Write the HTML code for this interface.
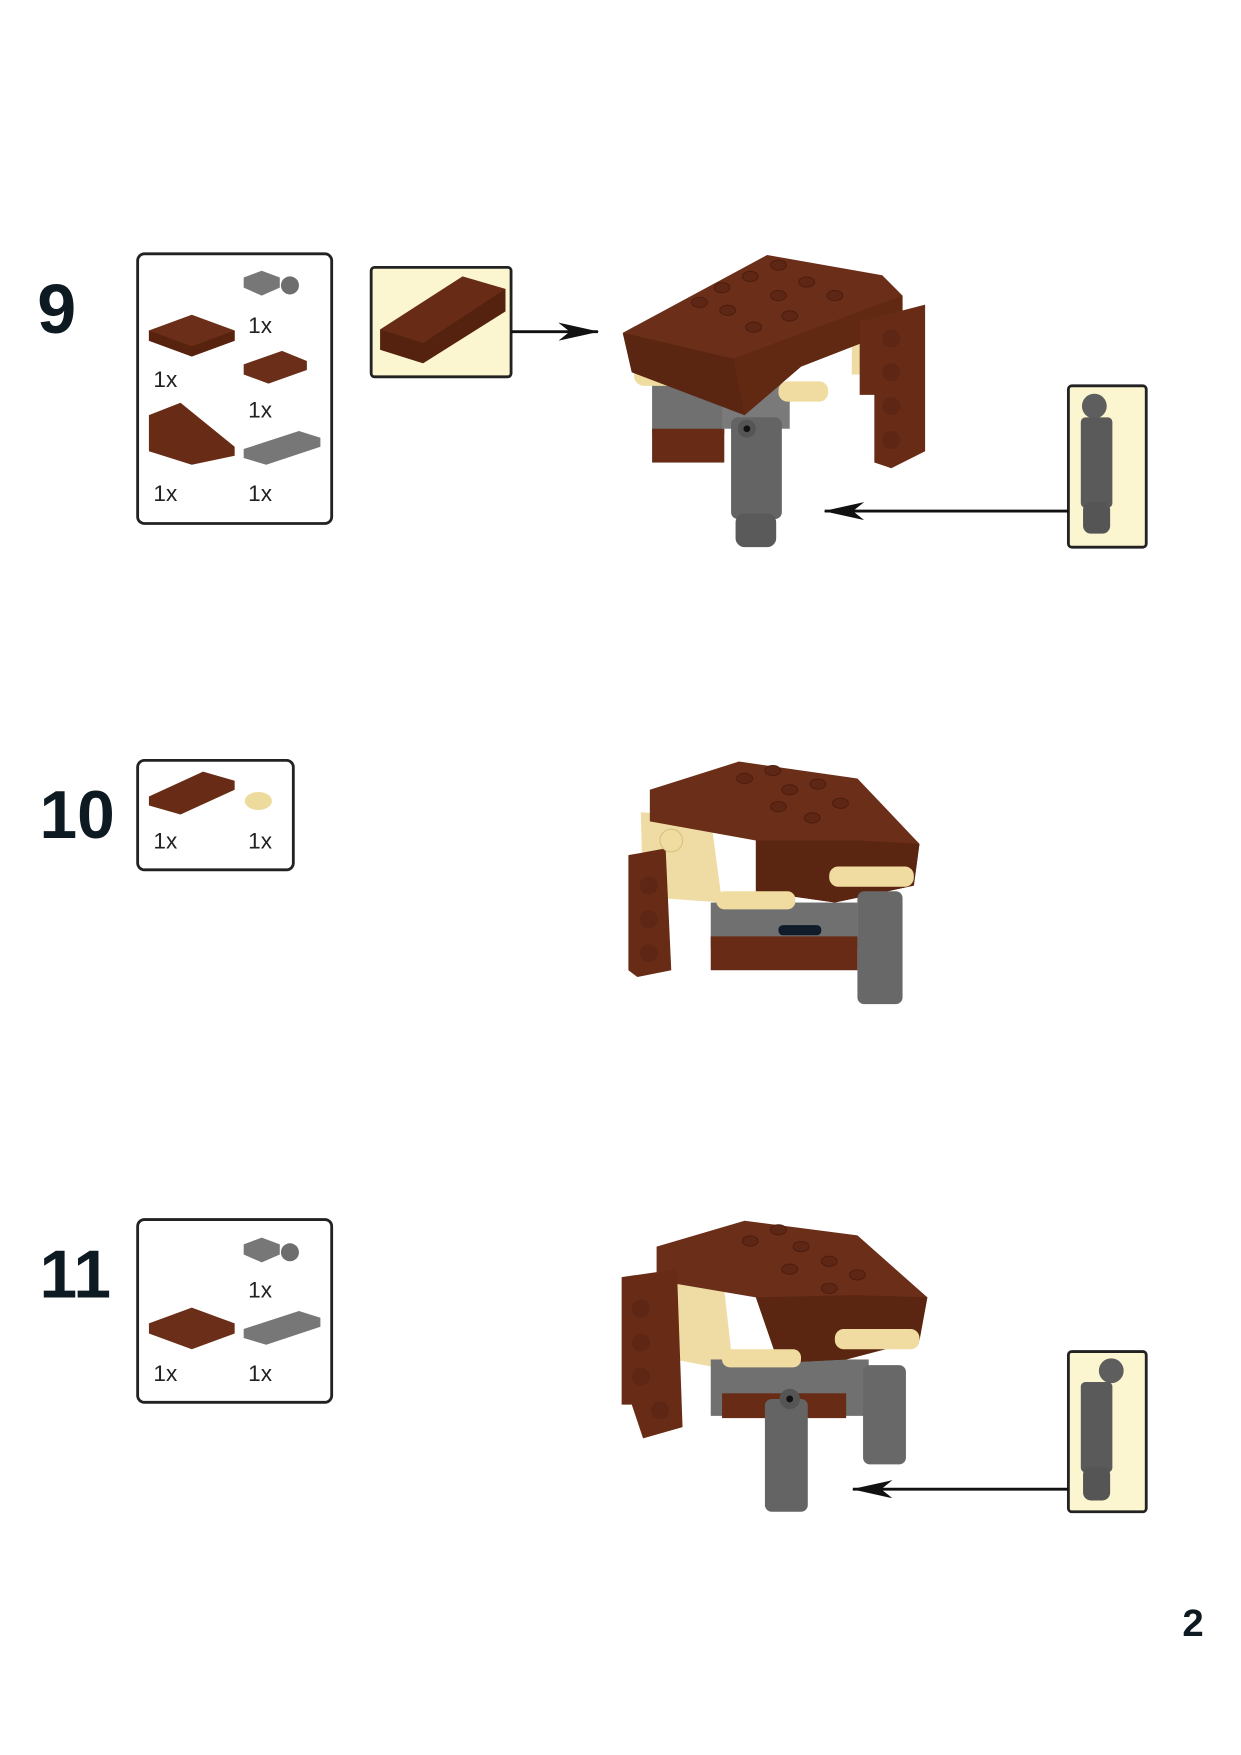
<!DOCTYPE html>
<html><head><meta charset="utf-8"><style>
html,body{margin:0;padding:0;background:#fff}
svg{display:block}
text{font-family:"Liberation Sans",Arial,sans-serif}
</style></head><body>
<svg width="1241" height="1755" viewBox="0 0 1100 1555.6" xmlns="http://www.w3.org/2000/svg">
<defs>
<marker id="ah" markerWidth="36" markerHeight="16" refX="35" refY="8" orient="auto" markerUnits="userSpaceOnUse"><path d="M0,8 L36,0 L26,8 L36,16 z" transform="rotate(180 18 8)" fill="#111"/></marker>
<g id="stud"><ellipse cx="0" cy="0" rx="7" ry="4.5" fill="#5e2614" stroke="#4a1c0e" stroke-width="0.8"/></g>
</defs>

<!-- STEP 9 -->
<text x="33" y="295" font-size="62" font-weight="bold" fill="#0d1a22">9</text>
<rect x="122" y="225" width="172" height="239" rx="6" fill="#fff" stroke="#222" stroke-width="2.5"/>
<path d="M216,246 L232,240 L248,246 L248,255 L232,262 L216,255z" fill="#777"/><circle cx="257" cy="253" r="8" fill="#6e6e6e"/>
<text x="220" y="295" font-size="20" fill="#222">1x</text>
<path d="M132,293 L170,279 L208,293 L208,302 L170,316 L132,302z" fill="#6b2e18"/><path d="M132,293 L170,307 L208,293 L208,302 L170,316 L132,302z" fill="#57230f"/>
<text x="136" y="343" font-size="20" fill="#222">1x</text>
<path d="M216,323 L250,311 L272,320 L272,328 L238,340 L216,332z" fill="#6b2e18"/>
<text x="220" y="370" font-size="20" fill="#222">1x</text>
<path d="M132,368 L160,357 L208,396 L208,404 L170,412 L132,400z" fill="#682c16"/>
<path d="M216,398 L265,382 L284,388 L284,396 L236,412 L216,406z" fill="#777"/>
<text x="136" y="444" font-size="20" fill="#222">1x</text>
<text x="220" y="444" font-size="20" fill="#222">1x</text>

<rect x="329" y="237" width="124" height="97" rx="3" fill="#fbf6cf" stroke="#222" stroke-width="2.5"/>
<path d="M337,292 L410,245 L448,256 L448,276 L375,322 L337,310z" fill="#682c16"/>
<path d="M337,292 L375,304 L448,256 L448,276 L375,322 L337,310z" fill="#55220f"/>
<line x1="453" y1="294" x2="530" y2="294" stroke="#111" stroke-width="2.5" marker-end="url(#ah)"/>

<!-- model 9 -->
<rect x="755" y="262" width="36" height="70" fill="#efdca4"/>
<rect x="578" y="335" width="64" height="50" fill="#707070"/>
<rect x="578" y="380" width="64" height="30" fill="#682c16"/>
<rect x="640" y="340" width="60" height="40" fill="#7a7a7a"/>
<rect x="562" y="320" width="50" height="22" rx="9" fill="#f0dca0"/>
<rect x="690" y="338" width="44" height="18" rx="8" fill="#f0dca0"/>
<path d="M552,295 L680,226 L782,244 L800,262 L800,290 L710,325 L660,368 L560,330z" fill="#6b2e18"/>
<path d="M552,295 L650,318 L660,368 L560,330z" fill="#5a2511"/>
<path d="M650,318 L800,262 L800,290 L710,325 L660,368z" fill="#612812"/>
<path d="M762,285 L820,270 L820,400 L790,415 L775,410 L775,350 L762,350z" fill="#682c16"/>
<rect x="648" y="370" width="45" height="90" rx="6" fill="#646464"/>
<rect x="652" y="455" width="36" height="30" rx="8" fill="#5a5a5a"/>
<circle cx="662" cy="380" r="8" fill="#555"/><circle cx="662" cy="380" r="3" fill="#111"/>
<use href="#stud" x="640" y="255"/><use href="#stud" x="665" y="245"/><use href="#stud" x="690" y="235"/>
<use href="#stud" x="620" y="268"/><use href="#stud" x="645" y="275"/><use href="#stud" x="690" y="262"/><use href="#stud" x="715" y="250"/>
<use href="#stud" x="668" y="290"/><use href="#stud" x="700" y="280"/><use href="#stud" x="740" y="262"/>
<circle cx="790" cy="300" r="8" fill="#5e2614"/><circle cx="790" cy="330" r="8" fill="#5e2614"/><circle cx="790" cy="360" r="8" fill="#5e2614"/><circle cx="790" cy="390" r="8" fill="#5e2614"/>

<rect x="947" y="342" width="69" height="143" rx="3" fill="#fbf6cf" stroke="#222" stroke-width="2.5"/>
<circle cx="970" cy="360" r="11" fill="#5e5e5e"/>
<rect x="958" y="370" width="28" height="80" rx="4" fill="#5a5a5a"/>
<rect x="960" y="445" width="24" height="28" rx="7" fill="#555"/>
<line x1="947" y1="453" x2="731" y2="453" stroke="#111" stroke-width="2.5" marker-end="url(#ah)"/>

<!-- STEP 10 -->
<text x="35" y="743" font-size="60" font-weight="bold" fill="#0d1a22">10</text>
<rect x="122" y="674" width="138" height="97" rx="6" fill="#fff" stroke="#222" stroke-width="2.5"/>
<path d="M132,706 L180,684 L208,692 L208,700 L160,722 L132,714z" fill="#682c16"/>
<ellipse cx="229" cy="710" rx="12" ry="8" fill="#eddb9e"/>
<text x="136" y="752" font-size="20" fill="#222">1x</text>
<text x="220" y="752" font-size="20" fill="#222">1x</text>

<!-- model 10 -->
<path d="M568,720 L630,725 L640,800 L570,795z" fill="#efdca4"/>
<rect x="630" y="800" width="130" height="40" fill="#707070"/>
<rect x="630" y="830" width="130" height="30" fill="#682c16"/>
<path d="M576,700 L655,675 L760,690 L815,748 L810,785 L740,800 L670,790 L670,745 L576,728z" fill="#6b2e18"/>
<path d="M670,745 L760,745 L815,748 L810,785 L740,800 L670,790z" fill="#5a2511"/>
<rect x="635" y="790" width="70" height="16" rx="7" fill="#f0dca0"/>
<rect x="735" y="768" width="75" height="18" rx="8" fill="#f0dca0"/>
<rect x="690" y="820" width="38" height="9" rx="4" fill="#101c2a"/>
<path d="M557,758 L590,752 L595,860 L565,866 L557,860z" fill="#682c16"/>
<circle cx="575" cy="785" r="8" fill="#5e2614"/><circle cx="575" cy="815" r="8" fill="#5e2614"/><circle cx="575" cy="845" r="8" fill="#5e2614"/>
<circle cx="595" cy="745" r="10" fill="#f0dca0" stroke="#d8c080"/>
<rect x="760" y="790" width="40" height="100" rx="6" fill="#686868"/>
<use href="#stud" x="660" y="690"/><use href="#stud" x="685" y="683"/><use href="#stud" x="700" y="700"/><use href="#stud" x="725" y="695"/><use href="#stud" x="690" y="715"/><use href="#stud" x="745" y="712"/><use href="#stud" x="720" y="725"/>

<!-- STEP 11 -->
<text x="35" y="1150" font-size="60" font-weight="bold" fill="#0d1a22">11</text>
<rect x="122" y="1081" width="172" height="162" rx="6" fill="#fff" stroke="#222" stroke-width="2.5"/>
<path d="M216,1103 L232,1097 L248,1103 L248,1112 L232,1119 L216,1112z" fill="#777"/><circle cx="257" cy="1110" r="8" fill="#6e6e6e"/>
<text x="220" y="1150" font-size="20" fill="#222">1x</text>
<path d="M132,1173 L170,1159 L208,1173 L208,1182 L170,1196 L132,1182z" fill="#6b2e18"/>
<path d="M216,1178 L265,1162 L284,1168 L284,1176 L236,1192 L216,1186z" fill="#777"/>
<text x="136" y="1224" font-size="20" fill="#222">1x</text>
<text x="220" y="1224" font-size="20" fill="#222">1x</text>

<!-- model 11 -->
<path d="M588,1120 L640,1125 L650,1215 L598,1205z" fill="#efdca4"/>
<rect x="630" y="1205" width="140" height="50" fill="#707070"/>
<rect x="640" y="1235" width="110" height="22" fill="#682c16"/>
<path d="M582,1105 L660,1082 L760,1095 L822,1150 L815,1188 L750,1205 L690,1208 L670,1150 L582,1135z" fill="#6b2e18"/>
<path d="M670,1150 L760,1148 L822,1150 L815,1188 L750,1205 L690,1208z" fill="#5a2511"/>
<rect x="640" y="1196" width="70" height="16" rx="7" fill="#f0dca0"/>
<rect x="740" y="1178" width="75" height="18" rx="8" fill="#f0dca0"/>
<path d="M551,1132 L600,1125 L605,1265 L570,1275 L560,1245 L551,1245z" fill="#682c16"/>
<circle cx="568" cy="1160" r="8" fill="#5e2614"/><circle cx="568" cy="1190" r="8" fill="#5e2614"/><circle cx="568" cy="1220" r="8" fill="#5e2614"/><circle cx="585" cy="1250" r="8" fill="#5e2614"/>
<rect x="678" y="1240" width="38" height="100" rx="6" fill="#646464"/>
<circle cx="700" cy="1240" r="9" fill="#555"/><circle cx="700" cy="1240" r="3" fill="#111"/>
<rect x="765" y="1210" width="38" height="88" rx="6" fill="#686868"/>
<use href="#stud" x="665" y="1100"/><use href="#stud" x="690" y="1090"/><use href="#stud" x="710" y="1105"/><use href="#stud" x="735" y="1118"/><use href="#stud" x="700" y="1125"/><use href="#stud" x="760" y="1130"/><use href="#stud" x="735" y="1142"/>

<rect x="947" y="1198" width="69" height="142" rx="3" fill="#fbf6cf" stroke="#222" stroke-width="2.5"/>
<circle cx="985" cy="1215" r="11" fill="#5e5e5e"/>
<rect x="958" y="1225" width="28" height="80" rx="4" fill="#5a5a5a"/>
<rect x="960" y="1300" width="24" height="30" rx="7" fill="#555"/>
<line x1="947" y1="1320" x2="756" y2="1320" stroke="#111" stroke-width="2.5" marker-end="url(#ah)"/>

<text x="1048" y="1450" font-size="34" font-weight="bold" fill="#0d1a22">2</text>
</svg>
</body></html>
